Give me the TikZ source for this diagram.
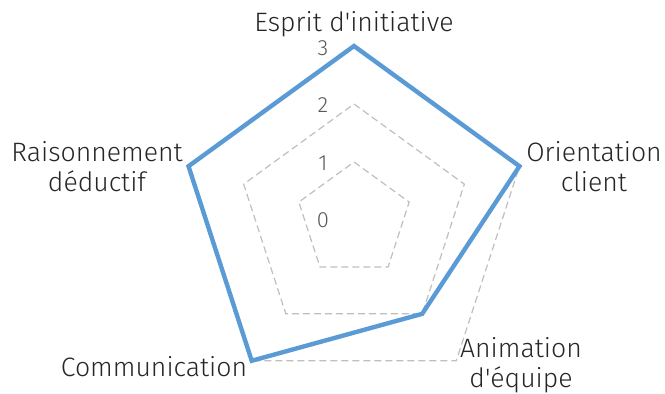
\documentclass[tikz,border=0pt]{standalone}
\usepackage{fontspec}
\setmainfont{Fira Sans Light}
\usetikzlibrary{calc}
\definecolor{serie}{HTML}{5B9BD5}
\definecolor{grille}{HTML}{BFBFBF}
\definecolor{valtxt}{HTML}{595959}
\definecolor{cattxt}{HTML}{262626}
\begin{document}
\begin{tikzpicture}[x=1pt,y=1pt,
 gridline/.style={draw=grille, line width=1.2pt, dash pattern=on 7pt off 4pt},
 series/.style={draw=serie, line width=4.4pt, line join=miter},
 vallab/.style={text=valtxt, font=\fontsize{22}{24}\selectfont, anchor=center, inner sep=0pt},
 catlab/.style={text=cattxt, font=\fontsize{26.6}{30}\selectfont, align=center, inner sep=0pt}]
\useasboundingbox (0,0) rectangle (665,394);
\coordinate (C) at (354,174);
\foreach \i/\a in {1/90,2/18,3/-54,4/-126,5/162}{
  \foreach \k in {1,2,3}{
    \coordinate (g\k-\i) at ($(C)+(\a:\k*58pt)$);
  }
}
\foreach \k in {1,2,3}{
  \draw[gridline] (g\k-1)--(g\k-2)--(g\k-3)--(g\k-4)--(g\k-5)--cycle;
}
\draw[series] (g3-1)--(g3-2)--(g2-3)--(g3-4)--(g3-5)--cycle;
\node[vallab] (v0) at (323,174) {0};
\node[vallab] (v1) at (323,231) {1};
\node[vallab] (v2) at (323,289) {2};
\node[vallab] (v3) at (323,346) {3};
\node[catlab] (esprit) at (354,370) {Esprit d\textquotesingle initiative};
\node[catlab] (raison) at (97,227) {Raisonnement\\déductif};
\node[catlab] (orient) at (594,227) {Orientation\\client};
\node[catlab] (comm) at (154,27) {Communication};
\node[catlab] (anim) at (521,29) {Animation\\d\textquotesingle équipe};
\end{tikzpicture}
\end{document}
